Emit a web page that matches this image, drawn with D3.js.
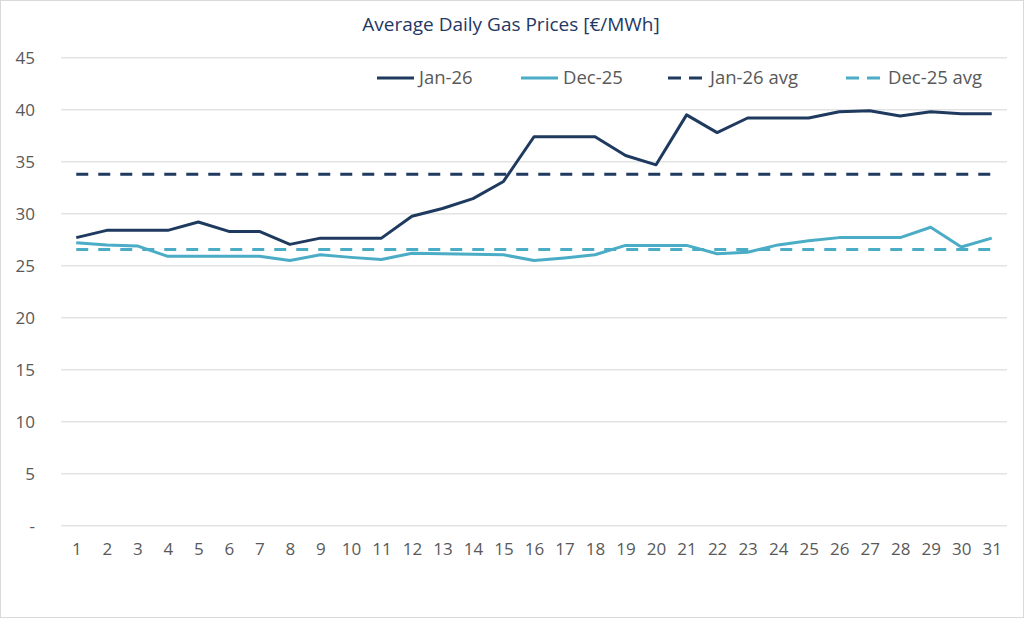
<!DOCTYPE html>
<html>
<head>
<meta charset="utf-8">
<script src="https://cdn.jsdelivr.net/npm/d3@7"></script>
<style>
  body { margin: 0; background: #fff; }
  svg { display: block; font-family: "Open Sans", sans-serif; }
</style>
</head>
<body>
<svg width="1024" height="618"></svg>
<script>
// values
var days = d3.range(1, 32);
var jan26 = [27.7, 28.4, 28.4, 28.4, 29.2, 28.3, 28.3, 27.05, 27.65, 27.65, 27.65, 29.75, 30.5, 31.45, 33.1,
             37.4, 37.4, 37.4, 35.6, 34.7, 39.5, 37.8, 39.2, 39.2, 39.2, 39.8, 39.9, 39.4, 39.8, 39.6, 39.6];
var dec25 = [27.2, 27.0, 26.9, 25.9, 25.9, 25.9, 25.9, 25.5, 26.05, 25.8, 25.6, 26.2, 26.15, 26.1, 26.05,
             25.5, 25.75, 26.05, 26.95, 26.95, 26.95, 26.15, 26.3, 27.0, 27.4, 27.7, 27.7, 27.7, 28.7, 26.8, 27.65];
var jan26Avg = 33.8;
var dec25Avg = 26.55;
var yTicks = [0, 5, 10, 15, 20, 25, 30, 35, 40, 45];
var seriesNames = ["Jan-26", "Dec-25", "Jan-26 avg", "Dec-25 avg"];

var navy = "#1f3a5f";
var teal = "#4bacc6";

var svg = d3.select("svg");

svg.append("rect")
    .attr("x", 0.5).attr("y", 0.5)
    .attr("width", 1023).attr("height", 617)
    .attr("fill", "#fff")
    .attr("stroke", "#d9d9d9");

var x = d3.scalePoint().domain(days).range([61, 1007]).padding(0.5);
var y = d3.scaleLinear().domain([0, 45]).range([525.7, 57.7]);

// gridlines
svg.append("g")
    .selectAll("line")
    .data(yTicks)
    .enter()
    .append("line")
    .attr("x1", 61).attr("x2", 1007)
    .attr("y1", function (d) { return y(d); })
    .attr("y2", function (d) { return y(d); })
    .attr("stroke", "#e3e3e3")
    .attr("stroke-width", 1.5);

// y axis
var y_axis = d3.axisLeft(y)
    .tickValues(yTicks)
    .tickSize(0)
    .tickPadding(0)
    .tickFormat(function (d) { return d === 0 ? "-" : d; });

svg.append("g")
    .attr("transform", "translate(35,0)")
    .call(y_axis)
    .call(function (g) { g.select(".domain").remove(); })
    .selectAll("text")
    .attr("font-size", 17)
    .attr("font-family", "Open Sans, sans-serif")
    .attr("fill", "#595959");

// x axis
var x_axis = d3.axisBottom(x).tickSize(0).tickPadding(0);

svg.append("g")
    .attr("transform", "translate(0,540)")
    .call(x_axis)
    .call(function (g) { g.select(".domain").remove(); })
    .selectAll("text")
    .attr("dy", "0.9em")
    .attr("font-size", 17)
    .attr("font-family", "Open Sans, sans-serif")
    .attr("fill", "#595959");

// average lines
svg.append("path")
    .datum([1, 31])
    .attr("d", d3.line().x(function (d) { return x(d); }).y(y(jan26Avg)))
    .attr("fill", "none")
    .attr("stroke", navy)
    .attr("stroke-width", 3)
    .attr("stroke-dasharray", "12,10");

svg.append("path")
    .datum([1, 31])
    .attr("d", d3.line().x(function (d) { return x(d); }).y(y(dec25Avg)))
    .attr("fill", "none")
    .attr("stroke", teal)
    .attr("stroke-width", 3)
    .attr("stroke-dasharray", "12,10");

// series lines
var line = d3.line()
    .x(function (d, i) { return x(days[i]); })
    .y(function (d) { return y(d); });

svg.append("path")
    .datum(dec25)
    .attr("d", line)
    .attr("fill", "none")
    .attr("stroke", teal)
    .attr("stroke-width", 3)
    .attr("stroke-linejoin", "round");

svg.append("path")
    .datum(jan26)
    .attr("d", line)
    .attr("fill", "none")
    .attr("stroke", navy)
    .attr("stroke-width", 3)
    .attr("stroke-linejoin", "round");

// title
svg.append("text")
    .attr("x", 511)
    .attr("y", 31)
    .attr("text-anchor", "middle")
    .attr("font-size", 19)
    .attr("fill", "#1f3864")
    .text("Average Daily Gas Prices [€/MWh]");

// legend
var legendX = [377, 521, 668, 846];
var legendColor = [navy, teal, navy, teal];
var legendDash = [null, null, "13,8", "13,8"];

var legend = svg.append("g")
    .selectAll("g")
    .data(seriesNames)
    .enter()
    .append("g")
    .attr("transform", function (d, i) { return "translate(" + legendX[i] + ",78)"; });

legend.append("line")
    .attr("x1", 0).attr("x2", function (d, i) { return i < 2 ? 37 : 34; })
    .attr("stroke", function (d, i) { return legendColor[i]; })
    .attr("stroke-width", 3)
    .attr("stroke-dasharray", function (d, i) { return legendDash[i]; });

legend.append("text")
    .attr("x", 42)
    .attr("dy", "0.35em")
    .attr("font-size", 18.5)
    .attr("fill", "#595959")
    .text(function (d) { return d; });
</script>
</body>
</html>
